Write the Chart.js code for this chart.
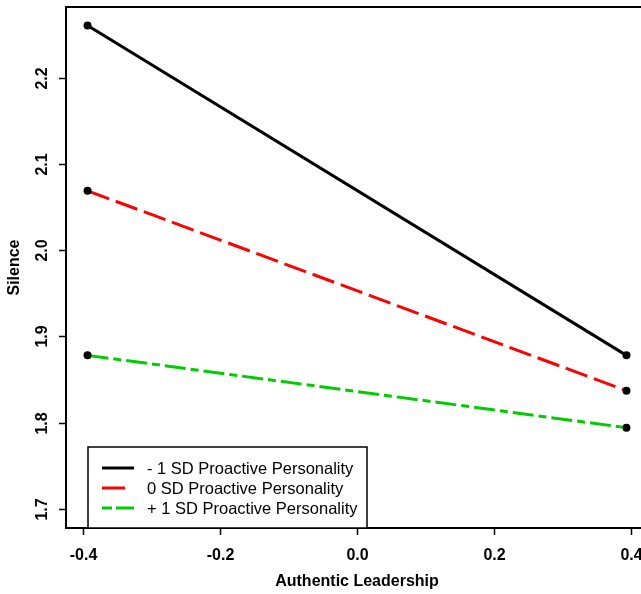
<!DOCTYPE html>
<html>
<head>
<meta charset="utf-8">
<script src="https://cdn.jsdelivr.net/npm/chart.js@4.4.1/dist/chart.umd.min.js"></script>
<style>
  html, body { margin: 0; padding: 0; background: #fff; overflow: hidden; }
  #wrap { width: 660px; height: 594px; position: relative; }
</style>
</head>
<body>
<div id="wrap"><canvas id="chart"></canvas></div>
<script>
// values
const leadership = [-0.394, 0.394];
const minus1SD = [2.261, 1.878];
const zeroSD = [2.069, 1.837];
const plus1SD = [1.878, 1.794];

const xTicks = [-0.4, -0.2, 0.0, 0.2, 0.4];
const yTicks = [1.7, 1.8, 1.9, 2.0, 2.1, 2.2];

const seriesLabels = ['- 1 SD Proactive Personality', '0 SD Proactive Personality', '+ 1 SD Proactive Personality'];
const seriesColors = ['#000000', '#ff0000', '#00cd00'];
const seriesDash = [[], [23, 7], [21, 5, 8, 5]];
const legendDash = [[], [], [10, 4, 20, 4]];

const toPoints = ys => leadership.map((x, i) => ({ x: x, y: ys[i] }));

const rAxes = {
  id: 'rAxes',
  afterDraw(chart) {
    const ctx = chart.ctx;
    const a = chart.chartArea;
    const xs = chart.scales.x, ys = chart.scales.y;
    ctx.save();
    ctx.strokeStyle = '#000';
    ctx.fillStyle = '#000';
    ctx.setLineDash([]);

    // box
    ctx.lineWidth = 2;
    ctx.strokeRect(a.left, a.top, a.right - a.left, a.bottom - a.top);

    // ticks
    ctx.lineWidth = 1.5;
    ctx.font = 'bold 16px "Liberation Sans", Arial, sans-serif';
    ctx.textAlign = 'center';
    ctx.textBaseline = 'middle';
    xTicks.forEach(v => {
      const px = Math.round(xs.getPixelForValue(v)) + 0.5;
      ctx.beginPath();
      ctx.moveTo(px, a.bottom);
      ctx.lineTo(px, a.bottom + 7);
      ctx.stroke();
      ctx.fillText(v.toFixed(1), px, a.bottom + 28);
    });
    yTicks.forEach(v => {
      const py = Math.round(ys.getPixelForValue(v)) + 0.5;
      ctx.beginPath();
      ctx.moveTo(a.left, py);
      ctx.lineTo(a.left - 7, py);
      ctx.stroke();
      ctx.save();
      ctx.translate(a.left - 23, py);
      ctx.rotate(-Math.PI / 2);
      ctx.fillText(v.toFixed(1), 0, 0);
      ctx.restore();
    });

    // titles
    ctx.fillText('Authentic Leadership', 357, 582);
    ctx.save();
    ctx.translate(15, (a.top + a.bottom) / 2);
    ctx.rotate(-Math.PI / 2);
    ctx.fillText('Silence', 0, 0);
    ctx.restore();

    // legend
    const lx = 88, ly = 447, lw = 279, lh = 81;
    ctx.fillStyle = '#fff';
    ctx.fillRect(lx, ly, lw, lh);
    ctx.lineWidth = 1.5;
    ctx.strokeRect(lx, ly, lw, lh);
    ctx.font = '16.5px "Liberation Sans", Arial, sans-serif';
    ctx.textAlign = 'left';
    seriesLabels.forEach((lab, i) => {
      const y = 468 + i * 20;
      ctx.strokeStyle = seriesColors[i];
      ctx.lineWidth = 3;
      ctx.setLineDash(legendDash[i]);
      ctx.beginPath();
      ctx.moveTo(i === 1 ? 102 : 102, y);
      ctx.lineTo(i === 1 ? 125 : 134, y);
      ctx.stroke();
      ctx.fillStyle = '#000';
      ctx.fillText(lab, 147, y + 1);
    });
    ctx.restore();
  }
};

const series = [minus1SD, zeroSD, plus1SD];

new Chart(document.getElementById('chart'), {
  type: 'scatter',
  data: {
    datasets: series.map((ys, i) => ({
      label: seriesLabels[i],
      data: toPoints(ys),
      showLine: true,
      borderColor: seriesColors[i],
      borderWidth: 3,
      borderDash: seriesDash[i],
      pointRadius: 4,
      pointBackgroundColor: '#000',
      pointBorderColor: '#000',
      pointBorderWidth: 0
    }))
  },
  options: {
    responsive: true,
    maintainAspectRatio: false,
    animation: false,
    layout: { padding: { left: 66, right: 12, top: 7, bottom: 66 } },
    plugins: { legend: { display: false }, tooltip: { enabled: false } },
    scales: {
      x: { type: 'linear', display: false, min: -0.4255, max: 0.4255 },
      y: { type: 'linear', display: false, min: 1.6776, max: 2.2824 }
    }
  },
  plugins: [rAxes]
});
</script>
</body>
</html>
